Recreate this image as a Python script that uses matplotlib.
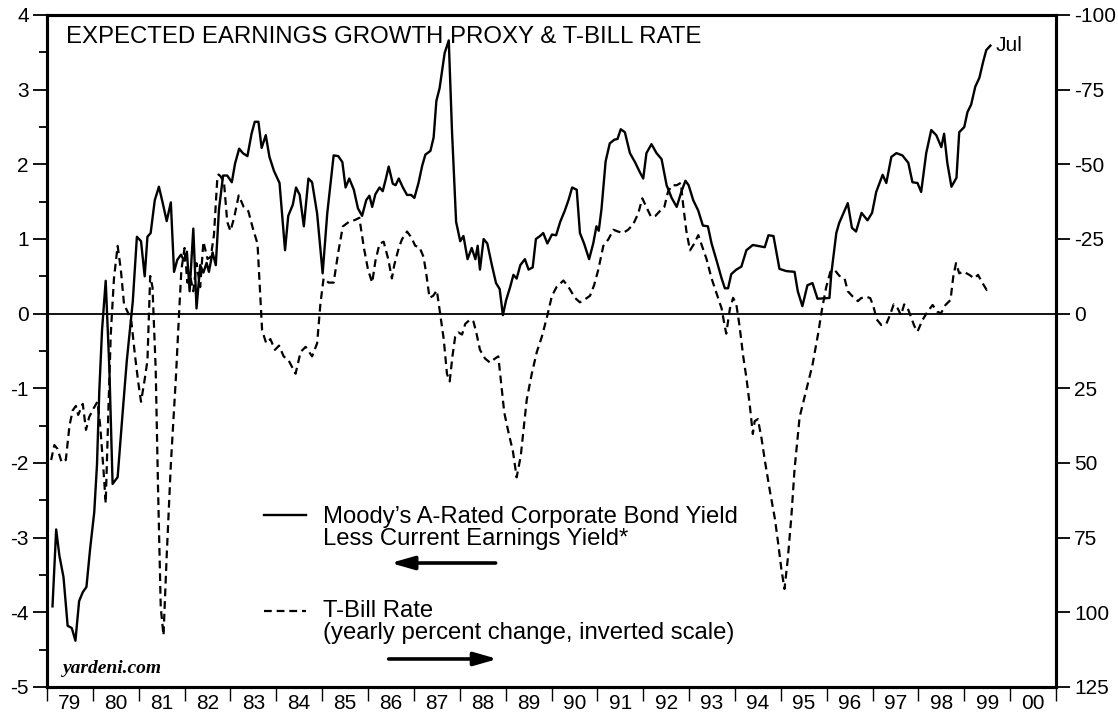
import numpy as np
import matplotlib
matplotlib.use("Agg")
import matplotlib.pyplot as plt

plt.rcParams['font.family'] = ['Liberation Sans', 'DejaVu Sans']
plt.rcParams['axes.unicode_minus'] = False

# Moody's A-rated bond yield less current earnings yield (left scale)
spread_dates = [
    1979.12, 1979.20, 1979.27, 1979.36, 1979.45, 1979.54, 1979.62, 1979.70, 1979.78, 1979.86,
    1979.94, 1980.03, 1980.09, 1980.14, 1980.20, 1980.28, 1980.36, 1980.43, 1980.54, 1980.65,
    1980.74, 1980.87, 1980.96, 1981.05, 1981.13, 1981.19, 1981.26, 1981.35, 1981.44, 1981.52,
    1981.61, 1981.70, 1981.77, 1981.84, 1981.92, 1981.99, 1982.05, 1982.11, 1982.19, 1982.26,
    1982.34, 1982.41, 1982.48, 1982.53, 1982.61, 1982.68, 1982.75, 1982.84, 1982.93, 1983.03,
    1983.10, 1983.19, 1983.27, 1983.37, 1983.46, 1983.53, 1983.61, 1983.68, 1983.77, 1983.85,
    1983.95, 1984.07, 1984.19, 1984.26, 1984.36, 1984.43, 1984.51, 1984.60, 1984.70, 1984.78,
    1984.89, 1985.01, 1985.11, 1985.25, 1985.35, 1985.44, 1985.51, 1985.59, 1985.69, 1985.78,
    1985.87, 1985.96, 1986.03, 1986.09, 1986.16, 1986.25, 1986.32, 1986.39, 1986.45, 1986.54,
    1986.60, 1986.67, 1986.76, 1986.85, 1986.94, 1987.01, 1987.10, 1987.18, 1987.25, 1987.36,
    1987.43, 1987.49, 1987.56, 1987.61, 1987.67, 1987.76, 1987.83, 1987.92, 1988.01, 1988.08,
    1988.17, 1988.26, 1988.34, 1988.39, 1988.44, 1988.52, 1988.60, 1988.70, 1988.79, 1988.87,
    1988.94, 1989.01, 1989.10, 1989.17, 1989.24, 1989.32, 1989.42, 1989.50, 1989.59, 1989.66,
    1989.75, 1989.82, 1989.91, 1990.01, 1990.10, 1990.19, 1990.29, 1990.37, 1990.45, 1990.55,
    1990.62, 1990.71, 1990.82, 1990.91, 1990.98, 1991.03, 1991.09, 1991.18, 1991.27, 1991.37,
    1991.44, 1991.51, 1991.60, 1991.71, 1991.82, 1991.93, 1992.00, 1992.07, 1992.18, 1992.29,
    1992.40, 1992.51, 1992.62, 1992.73, 1992.83, 1992.92, 1992.99, 1993.09, 1993.20, 1993.30,
    1993.41, 1993.49, 1993.60, 1993.71, 1993.78, 1993.85, 1993.92, 1994.03, 1994.14, 1994.25,
    1994.39, 1994.65, 1994.73, 1994.84, 1994.97, 1995.12, 1995.30, 1995.37, 1995.47, 1995.58,
    1995.69, 1995.80, 1996.06, 1996.10, 1996.21, 1996.27, 1996.46, 1996.55, 1996.64, 1996.76,
    1996.89, 1996.99, 1997.08, 1997.22, 1997.30, 1997.41, 1997.52, 1997.65, 1997.78, 1997.87,
    1997.98, 1998.06, 1998.17, 1998.28, 1998.39, 1998.50, 1998.56, 1998.63, 1998.72, 1998.83,
    1998.89, 1999.00, 1999.07, 1999.15, 1999.24, 1999.33, 1999.41, 1999.48, 1999.57,
]
spread_values = [
    -3.92, -2.89, -3.24, -3.53, -4.18, -4.21, -4.38, -3.85, -3.73, -3.66,
    -3.15, -2.66, -2.02, -1.04, -0.22, 0.44, -0.74, -2.28, -2.19, -1.32,
    -0.63, 0.16, 1.03, 0.97, 0.50, 1.03, 1.08, 1.52, 1.70, 1.49,
    1.24, 1.49, 0.56, 0.72, 0.79, 0.71, 0.83, 0.30, 1.14, 0.07,
    0.65, 0.55, 0.68, 0.56, 0.82, 0.65, 1.40, 1.85, 1.85, 1.76,
    2.01, 2.21, 2.15, 2.11, 2.41, 2.57, 2.57, 2.22, 2.39, 2.10,
    1.91, 1.75, 0.85, 1.31, 1.46, 1.69, 1.59, 1.17, 1.81, 1.76,
    1.34, 0.54, 1.34, 2.12, 2.11, 2.03, 1.69, 1.81, 1.66, 1.41,
    1.31, 1.52, 1.58, 1.43, 1.60, 1.69, 1.64, 1.81, 1.97, 1.74,
    1.72, 1.81, 1.69, 1.59, 1.59, 1.55, 1.75, 1.98, 2.13, 2.18,
    2.36, 2.85, 3.02, 3.23, 3.49, 3.66, 2.45, 1.23, 0.97, 1.04,
    0.73, 0.88, 0.73, 0.91, 0.59, 1.00, 0.94, 0.65, 0.41, 0.33,
    -0.02, 0.18, 0.36, 0.52, 0.47, 0.65, 0.73, 0.59, 0.62, 1.00,
    1.04, 1.08, 0.94, 1.06, 1.05, 1.23, 1.38, 1.52, 1.69, 1.66,
    1.08, 0.94, 0.73, 0.94, 1.17, 1.11, 1.40, 2.04, 2.28, 2.33,
    2.34, 2.47, 2.43, 2.15, 2.03, 1.89, 1.81, 2.15, 2.27, 2.15,
    2.07, 1.72, 1.55, 1.43, 1.63, 1.78, 1.72, 1.52, 1.38, 1.18,
    1.17, 0.94, 0.71, 0.47, 0.34, 0.34, 0.53, 0.59, 0.63, 0.85,
    0.92, 0.89, 1.05, 1.04, 0.60, 0.57, 0.56, 0.30, 0.10, 0.38,
    0.41, 0.20, 0.21, 0.53, 1.08, 1.21, 1.48, 1.15, 1.10, 1.35,
    1.25, 1.35, 1.63, 1.86, 1.75, 2.10, 2.15, 2.12, 2.02, 1.76,
    1.75, 1.63, 2.15, 2.46, 2.39, 2.23, 2.41, 2.02, 1.70, 1.82,
    2.43, 2.50, 2.70, 2.80, 3.04, 3.16, 3.37, 3.53, 3.59,
]

# T-bill rate, yearly percent change (right scale, inverted)
tbill_dates = [
    1979.09, 1979.16, 1979.23, 1979.32, 1979.41, 1979.49, 1979.56, 1979.63, 1979.68, 1979.78,
    1979.85, 1979.92, 1980.02, 1980.10, 1980.16, 1980.23, 1980.28, 1980.34, 1980.39, 1980.46,
    1980.54, 1980.61, 1980.68, 1980.77, 1980.84, 1980.92, 1980.99, 1981.05, 1981.12, 1981.19,
    1981.25, 1981.30, 1981.37, 1981.42, 1981.48, 1981.54, 1981.61, 1981.70, 1981.81, 1981.88,
    1981.93, 1982.00, 1982.06, 1982.12, 1982.19, 1982.26, 1982.34, 1982.41, 1982.50, 1982.57,
    1982.64, 1982.71, 1982.74, 1982.79, 1982.86, 1982.93, 1983.00, 1983.08, 1983.18, 1983.29,
    1983.39, 1983.49, 1983.59, 1983.66, 1983.69, 1983.78, 1983.87, 1983.97, 1984.06, 1984.16,
    1984.27, 1984.42, 1984.53, 1984.64, 1984.78, 1984.89, 1984.96, 1985.03, 1985.14, 1985.25,
    1985.35, 1985.45, 1985.58, 1985.72, 1985.81, 1985.91, 1986.00, 1986.09, 1986.16, 1986.25,
    1986.34, 1986.44, 1986.52, 1986.57, 1986.67, 1986.74, 1986.85, 1986.94, 1987.03, 1987.12,
    1987.21, 1987.27, 1987.34, 1987.42, 1987.50, 1987.57, 1987.65, 1987.72, 1987.78, 1987.84,
    1987.90, 1987.97, 1988.05, 1988.12, 1988.23, 1988.30, 1988.37, 1988.44, 1988.55, 1988.66,
    1988.77, 1988.84, 1988.90, 1988.97, 1989.06, 1989.16, 1989.24, 1989.33, 1989.39, 1989.46,
    1989.57, 1989.68, 1989.79, 1989.90, 1990.01, 1990.11, 1990.26, 1990.37, 1990.40, 1990.51,
    1990.62, 1990.73, 1990.84, 1990.93, 1991.02, 1991.13, 1991.24, 1991.35, 1991.45, 1991.56,
    1991.67, 1991.78, 1991.89, 1991.98, 1992.07, 1992.17, 1992.27, 1992.36, 1992.46, 1992.54,
    1992.63, 1992.73, 1992.82, 1992.87, 1992.94, 1993.02, 1993.11, 1993.20, 1993.28, 1993.38,
    1993.49, 1993.60, 1993.71, 1993.76, 1993.81, 1993.89, 1993.96, 1994.03, 1994.10, 1994.18,
    1994.25, 1994.32, 1994.39, 1994.43, 1994.50, 1994.58, 1994.65, 1994.76, 1994.87, 1994.94,
    1995.01, 1995.08, 1995.15, 1995.23, 1995.30, 1995.41, 1995.55, 1995.69, 1995.81, 1995.90,
    1995.99, 1996.08, 1996.17, 1996.28, 1996.39, 1996.46, 1996.57, 1996.68, 1996.75, 1996.86,
    1996.95, 1997.02, 1997.09, 1997.19, 1997.30, 1997.38, 1997.46, 1997.55, 1997.62, 1997.69,
    1997.77, 1997.84, 1997.91, 1997.98, 1998.09, 1998.20, 1998.31, 1998.41, 1998.49, 1998.59,
    1998.70, 1998.76, 1998.82, 1998.89, 1998.98, 1999.11, 1999.22, 1999.30, 1999.38, 1999.49,
    1999.56,
]
tbill_change = [
    49.0, 44.0, 45.3, 49.8, 49.0, 37.5, 32.4, 30.9, 33.9, 30.2,
    38.9, 34.6, 31.6, 29.5, 37.5, 52.0, 63.5, 31.6, 7.0, -11.8,
    -22.7, -14.7, -3.1, -0.2, 2.7, 14.2, 23.0, 29.5, 23.0, 15.7,
    -12.6, -8.9, 18.6, 57.7, 98.3, 107.7, 81.0, 50.5, 21.5, -0.2,
    -14.7, -22.0, -10.4, -12.6, -7.5, -16.9, -8.9, -24.1, -18.3, -19.0,
    -26.3, -44.4, -46.6, -45.9, -43.8, -30.7, -27.7, -32.1, -39.6, -35.7,
    -34.3, -28.5, -23.4, -3.1, 5.6, 9.9, 8.5, 12.1, 10.7, 14.3,
    15.7, 20.1, 12.8, 11.1, 14.3, 9.9, -3.1, -11.8, -10.4, -10.4,
    -20.5, -29.2, -30.7, -31.4, -32.1, -22.0, -14.7, -10.4, -17.6, -23.4,
    -24.1, -18.3, -11.8, -16.2, -22.0, -24.9, -27.5, -25.6, -22.7, -22.3,
    -19.0, -13.3, -5.3, -6.0, -7.8, -0.2, 8.5, 20.1, 22.7, 14.3,
    7.7, 6.3, 7.0, 3.4, 1.9, 2.7, 7.0, 12.1, 15.0, 16.4,
    15.0, 14.3, 23.0, 33.1, 39.6, 46.2, 54.8, 47.6, 38.9, 28.8,
    20.1, 12.8, 7.7, 1.2, -6.0, -8.9, -11.1, -8.9, -8.2, -5.3,
    -3.8, -4.8, -6.0, -9.6, -14.7, -22.7, -24.9, -28.1, -27.5, -27.0,
    -28.1, -29.9, -33.5, -38.6, -35.7, -32.4, -32.8, -34.3, -35.7, -40.8,
    -43.0, -43.0, -43.8, -36.5, -27.7, -21.2, -23.4, -26.3, -22.7, -18.3,
    -11.8, -6.8, -1.7, 2.7, 6.7, -1.7, -5.3, -3.1, 4.1, 14.3,
    21.5, 30.2, 40.3, 36.0, 35.3, 41.8, 49.0, 59.2, 68.6, 76.6,
    85.3, 92.2, 82.4, 67.9, 52.0, 34.6, 25.9, 17.2, 7.0, -1.7,
    -8.9, -14.0, -14.7, -12.6, -11.8, -7.5, -5.7, -4.2, -5.2, -5.7,
    -5.2, -2.4, 1.9, 3.8, 3.4, 0.5, -3.1, -1.7, 0.5, -3.1,
    -1.7, 1.2, 4.1, 6.0, 2.1, -0.7, -2.9, -0.7, -0.1, -2.9,
    -4.6, -12.4, -16.9, -13.5, -14.1, -13.0, -11.8, -13.0, -10.7, -7.9,
    -9.0,
]

years = list(range(1979, 2002))
year_labels = ["79", "80", "81", "82", "83", "84", "85", "86", "87", "88", "89",
               "90", "91", "92", "93", "94", "95", "96", "97", "98", "99", "00"]
left_ticks = list(range(-5, 5))
right_ticks = list(range(-100, 126, 25))

fig = plt.figure(figsize=(11.18, 7.19), dpi=100)
ax = fig.add_axes([47 / 1118, 32 / 719, 1009 / 1118, 672 / 719])

ax.plot(spread_dates, spread_values, color="black", lw=1.7)
ax.axhline(0, color="black", lw=1.3)
ax.set_xlim(1979, 2001)
ax.set_ylim(-5, 4)

ax2 = ax.twinx()
ax2.plot(tbill_dates, tbill_change, color="black", lw=1.6, dashes=(3.5, 2.2))
ax2.set_ylim(125, -100)

# ticks
ax.set_yticks(left_ticks)
ax.set_yticklabels([str(t) for t in left_ticks])
ax.set_yticks(np.arange(-4.5, 4, 1), minor=True)
ax.tick_params(axis="y", which="major", direction="out", length=10, width=1.3,
               labelsize=15, pad=3)
ax.tick_params(axis="y", which="minor", direction="out", length=6, width=1.3)

ax.set_xticks(years)
ax.set_xticklabels([""] * len(years))
ax.set_xticks([y + 0.5 for y in years[:-1]], minor=True)
ax.set_xticklabels(year_labels, minor=True)
ax.tick_params(axis="x", which="major", direction="out", length=10, width=1.0)
ax.tick_params(axis="x", which="minor", length=0, labelsize=15, pad=5)

ax2.set_yticks(right_ticks)
ax2.set_yticklabels([str(t) for t in right_ticks])
ax2.tick_params(axis="y", which="major", direction="out", length=10, width=1.3,
                labelsize=15, pad=3)

for a in (ax, ax2):
    for s in a.spines.values():
        s.set_linewidth(2.2)

# texts
ax.text(0.0188, 0.967, "EXPECTED EARNINGS GROWTH PROXY & T-BILL RATE",
        transform=ax.transAxes, fontsize=17.3, va="center", ha="left")
ax.text(0.0158, 0.028, "yardeni.com", transform=ax.transAxes, fontsize=14,
        family="Liberation Serif", weight="bold", style="italic", va="center")
ax.annotate("Jul", xy=(spread_dates[-1], spread_values[-1]), xytext=(4, 0),
            textcoords="offset points", fontsize=15, va="center")

# legend block
ax.plot([0.2149, 0.2564], [0.256, 0.256], transform=ax.transAxes, color="black", lw=1.7)
ax.text(0.2733, 0.253, "Moody\u2019s A-Rated Corporate Bond Yield",
        transform=ax.transAxes, fontsize=17.2, va="center", linespacing=1.0)
ax.text(0.2733, 0.220, "Less Current Earnings Yield*",
        transform=ax.transAxes, fontsize=17.2, va="center")
ax.annotate("", xy=(0.3406, 0.1845), xytext=(0.4446, 0.1845), xycoords="axes fraction",
            arrowprops=dict(arrowstyle="-|>,head_length=1.4,head_width=0.4",
                            color="black", lw=2.6, shrinkA=0, shrinkB=0))

ax.plot([0.2149, 0.2564], [0.113, 0.113], transform=ax.transAxes, color="black",
        lw=1.6, dashes=(3.5, 2.2))
ax.text(0.2733, 0.113, "T-Bill Rate", transform=ax.transAxes, fontsize=17.2, va="center")
ax.text(0.2733, 0.080, "(yearly percent change, inverted scale)",
        transform=ax.transAxes, fontsize=17.2, va="center")
ax.annotate("", xy=(0.4465, 0.0417), xytext=(0.3386, 0.0417), xycoords="axes fraction",
            arrowprops=dict(arrowstyle="-|>,head_length=1.4,head_width=0.4",
                            color="black", lw=2.6, shrinkA=0, shrinkB=0))

fig.savefig("out.png", dpi=100)
